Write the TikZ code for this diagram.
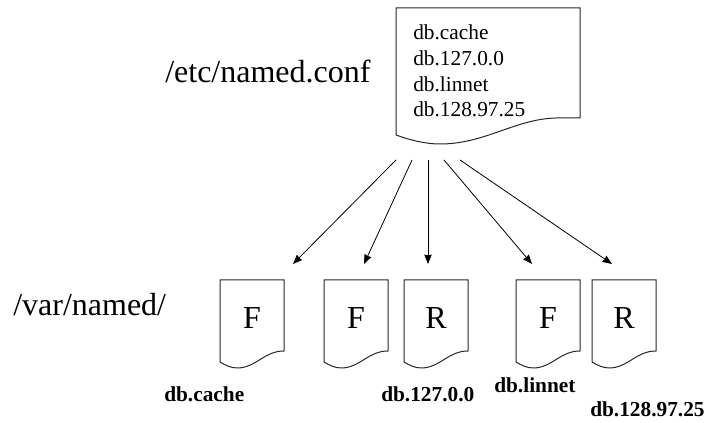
\documentclass[tikz,border=0pt]{standalone}
\usepackage{fontspec}
\setmainfont{Liberation Serif}
\usetikzlibrary{arrows.meta}
\tikzset{
  docline/.style={draw=black!85,line width=0.75pt,line join=miter},
  arrowline/.style={draw=black,line width=0.6pt,-{Stealth[length=7pt,width=5.5pt,inset=0.5pt]}},
  bigtext/.style={inner sep=0pt,anchor=base west,font=\fontsize{24}{28}\selectfont},
  listtext/.style={inner sep=0pt,anchor=base west,font=\fontsize{16}{19}\selectfont},
  letter/.style={inner sep=0pt,anchor=base,font=\fontsize{24}{28}\selectfont},
  filelabel/.style={inner sep=0pt,anchor=base west,font=\bfseries\fontsize{16}{19}\selectfont},
}
\newcommand{\smalldoc}[3]{%
  \draw[docline] (#1,280) -- (#1+64,280) -- (#1+64,351)
    .. controls (#1+44,351) and (#1+36,368) .. (#1+17,368)
    .. controls (#1+11,368) and (#1+5,365) .. (#1,362) -- cycle;
  \node[letter] (#2) at (#1+32,329) {#3};
}
\begin{document}
\begin{tikzpicture}[x=0.75pt,y=-0.75pt]
\useasboundingbox (0,0) rectangle (707,423);
\draw[docline] (396,8) -- (580,8) -- (580,118) -- (556,118)
  .. controls (515,119) and (485,144) .. (440,144)
  .. controls (425,144) and (410,140) .. (396,135) -- cycle;
\node[listtext] (l1) at (413,40) {db.cache};
\node[listtext] (l2) at (413,66) {db.127.0.0};
\node[listtext] (l3) at (413,92) {db.linnet};
\node[listtext] (l4) at (413,117) {db.128.97.25};
\node[bigtext] (etc) at (165,83) {/etc/named.conf};
\node[bigtext] (var) at (13,316) {/var/named/};
\smalldoc{220}{d1}{F}
\smalldoc{324}{d2}{F}
\smalldoc{404}{d3}{R}
\smalldoc{516}{d4}{F}
\smalldoc{592}{d5}{R}
\node[filelabel] (n1) at (164,402) {db.cache};
\node[filelabel] (n2) at (381,402) {db.127.0.0};
\node[filelabel] (n3) at (494,393) {db.linnet};
\node[filelabel] (n4) at (590,417) {db.128.97.25};
\coordinate (s1) at (396,160);
\coordinate (s2) at (412,160);
\coordinate (s3) at (428,160);
\coordinate (s4) at (444,160);
\coordinate (s5) at (460,160);
\coordinate (e1) at (293,264);
\coordinate (e2) at (364,264);
\coordinate (e3) at (428,264);
\coordinate (e4) at (532,264);
\coordinate (e5) at (612,264);
\foreach \i in {1,...,5} \draw[arrowline] (s\i) -- (e\i);
\end{tikzpicture}
\end{document}
